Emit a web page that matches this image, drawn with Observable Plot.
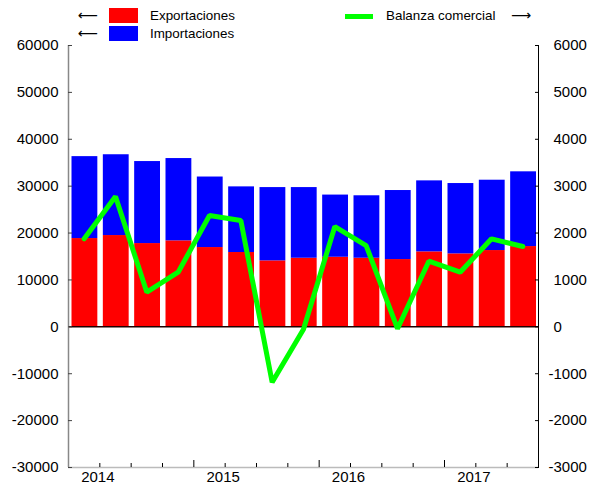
<!DOCTYPE html>
<html><head><meta charset="utf-8">
<script src="https://cdn.jsdelivr.net/npm/d3@7"></script>
<script src="https://cdn.jsdelivr.net/npm/@observablehq/plot@0.6"></script>
<style>
body{margin:0;background:#fff;font-family:"Liberation Sans",Arial,sans-serif;}
#wrap{position:relative;width:592px;height:489px;}
.lg{position:absolute;font-size:13.4px;line-height:16px;color:#000;white-space:nowrap;}
.arr{position:absolute;font-family:"DejaVu Sans",sans-serif;font-size:14px;line-height:16px;color:#000;}
.sw{position:absolute;}
</style></head><body><div id="wrap"></div>
<script>
const quarters = ["2014-T1","2014-T2","2014-T3","2014-T4","2015-T1","2015-T2","2015-T3","2015-T4","2016-T1","2016-T2","2016-T3","2016-T4","2017-T1","2017-T2","2017-T3"];
const exportaciones = [18830,19470,17760,18340,16910,15850,14070,14630,14840,14630,14350,15990,15560,16270,17120];
const importaciones = [17470,17230,17490,17550,15040,14000,15630,15070,13260,13320,14720,15140,15000,15000,15940];
const balanza = [1877,2779,738,1165,2374,2267,-1180,-50,2139,1734,-40,1400,1165,1877,1713];
const years = ["2014","2015","2016","2017"];
const leftTicks = [-30000,-20000,-10000,0,10000,20000,30000,40000,50000,60000];
const rightTicks = [-3000,-2000,-1000,0,1000,2000,3000,4000,5000,6000];
const colors = {exp:"#ff0000", imp:"#0000ff", bal:"#00ff00"};

const rows = quarters.map((q,i)=>({i, q, exp:exportaciones[i], imp:importaciones[i], bal:balanza[i]}));
const n = quarters.length;
const yearLabelPos = years.map((y,k)=>k*4+1);
const boundaries = d3.range(1,n);
const longTicks = boundaries.filter(b=>b%4===0);
const shortTicks = boundaries.filter(b=>b%4!==0);

const chart = Plot.plot({
  width:592, height:489,
  marginLeft:68, marginRight:54, marginTop:45, marginBottom:22,
  style:{fontSize:"15px", fontFamily:"Liberation Sans, Arial, sans-serif", background:"#fff"},
  x:{type:"linear", domain:[0,n]},
  y:{domain:[-30000,60000]},
  marks:[
    Plot.rectY(rows,{x1:d=>d.i, x2:d=>d.i+1, y1:0, y2:"exp", fill:colors.exp, insetLeft:3.5, insetRight:2}),
    Plot.rectY(rows,{x1:d=>d.i, x2:d=>d.i+1, y1:"exp", y2:d=>d.exp+d.imp, fill:colors.imp, insetLeft:3.5, insetRight:2}),
    Plot.ruleY([0],{stroke:"#200", strokeWidth:1.5}),
    Plot.line(rows,{x:d=>d.i+0.5, y:d=>d.bal*10, stroke:colors.bal, strokeWidth:5, strokeLinejoin:"miter"}),
    Plot.ruleY([-30000],{stroke:"#bbb", strokeWidth:1.5}),
    Plot.ruleX([0],{stroke:"#888", strokeWidth:1.5}),
    Plot.ruleX([n],{stroke:"#000", strokeWidth:1}),
    Plot.axisY({anchor:"left", label:null, ticks:leftTicks, tickSize:4, dx:4, tickFormat:()=>"" , stroke:"#444"}),
    Plot.axisY({anchor:"left", label:null, ticks:leftTicks, tickSize:0, tickPadding:10, tickFormat:d=>String(d)}),
    Plot.axisY({anchor:"right", label:null, ticks:rightTicks.map(v=>v*10), tickSize:4, dx:-4, tickFormat:()=>""}),
    Plot.axisY({anchor:"right", label:null, ticks:rightTicks.filter(v=>v>=0).map(v=>v*10), tickSize:0, tickPadding:15, tickFormat:d=>String(d/10)}),
    Plot.axisY({anchor:"right", label:null, ticks:rightTicks.filter(v=>v<0).map(v=>v*10), tickSize:0, tickPadding:10, tickFormat:d=>String(d/10)}),
    Plot.axisX({anchor:"bottom", label:null, ticks:shortTicks, tickSize:4, dy:-4, tickFormat:()=>""}),
    Plot.axisX({anchor:"bottom", label:null, ticks:longTicks, tickSize:7, dy:-7, tickFormat:()=>""}),
    Plot.axisX({anchor:"bottom", label:null, ticks:yearLabelPos, tickSize:0, tickPadding:4, dx:-2, tickFormat:d=>years[(d-1)/4]})
  ]
});
const wrap = document.getElementById("wrap");
wrap.appendChild(chart);

const legend = [
  {cls:"arr", text:"⟵", left:78, top:7},
  {cls:"arr", text:"⟵", left:78, top:25},
  {cls:"sw", color:colors.exp, left:109, top:8, w:29, h:15},
  {cls:"sw", color:colors.imp, left:109, top:26, w:29, h:15},
  {cls:"lg", text:"Exportaciones", left:150, top:8},
  {cls:"lg", text:"Importaciones", left:150, top:26},
  {cls:"sw", color:colors.bal, left:345, top:14, w:28, h:5},
  {cls:"lg", text:"Balanza comercial", left:386, top:8},
  {cls:"arr", text:"⟶", left:511, top:7}
];
for (const it of legend){
  const el = document.createElement("div");
  el.className = it.cls;
  el.style.left = it.left+"px"; el.style.top = it.top+"px";
  if (it.text) el.textContent = it.text;
  if (it.color){ el.style.background = it.color; el.style.width = it.w+"px"; el.style.height = it.h+"px"; }
  wrap.appendChild(el);
}
</script></body></html>
